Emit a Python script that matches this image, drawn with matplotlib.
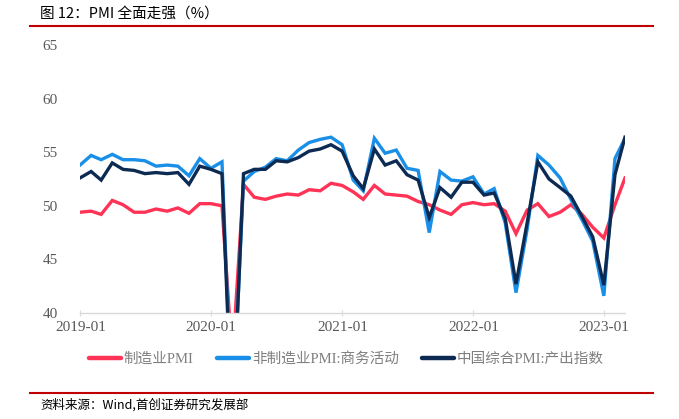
import matplotlib
matplotlib.use("Agg")
import matplotlib.pyplot as plt
import matplotlib.dates as mdates
import pandas as pd
from matplotlib.lines import Line2D

# Monthly data, 2018-12 .. 2023-02 (plotted at month end)
dates = pd.date_range("2018-12-31", periods=51, freq="ME")

manufacturing_pmi = [
    49.4,
    49.5, 49.2, 50.5, 50.1, 49.4, 49.4, 49.7, 49.5, 49.8, 49.3, 50.2, 50.2,
    50.0, 35.7, 52.0, 50.8, 50.6, 50.9, 51.1, 51.0, 51.5, 51.4, 52.1, 51.9,
    51.3, 50.6, 51.9, 51.1, 51.0, 50.9, 50.4, 50.1, 49.6, 49.2, 50.1, 50.3,
    50.1, 50.2, 49.5, 47.4, 49.6, 50.2, 49.0, 49.4, 50.1, 49.2, 48.0, 47.0,
    50.1, 52.6,
]
non_manufacturing_pmi = [
    53.8,
    54.7, 54.3, 54.8, 54.3, 54.3, 54.2, 53.7, 53.8, 53.7, 52.8, 54.4, 53.5,
    54.1, 29.6, 52.3, 53.2, 53.6, 54.4, 54.2, 55.2, 55.9, 56.2, 56.4, 55.7,
    52.4, 51.4, 56.3, 54.9, 55.2, 53.5, 53.3, 47.5, 53.2, 52.4, 52.3, 52.7,
    51.1, 51.6, 48.4, 41.9, 47.8, 54.7, 53.8, 52.6, 50.6, 48.7, 46.7, 41.6,
    54.4, 56.3,
]
composite_pmi = [
    52.6,
    53.2, 52.4, 54.0, 53.4, 53.3, 53.0, 53.1, 53.0, 53.1, 52.0, 53.7, 53.4,
    53.0, 28.9, 53.0, 53.4, 53.4, 54.2, 54.1, 54.5, 55.1, 55.3, 55.7, 55.1,
    52.8, 51.6, 55.3, 53.8, 54.2, 52.9, 52.4, 48.9, 51.7, 50.8, 52.2, 52.2,
    51.0, 51.2, 48.8, 42.7, 48.4, 54.1, 52.5, 51.7, 50.9, 49.0, 47.1, 42.6,
    52.9, 56.4,
]

series_labels = ["制造业PMI", "非制造业PMI:商务活动", "中国综合PMI:产出指数"]
series_colors = ["#FF3355", "#1A8FE8", "#0D2B52"]
y_ticks = [40, 45, 50, 55, 60, 65]

plt.rcParams["font.family"] = ["Liberation Serif", "Noto Sans CJK SC", "DejaVu Sans"]

fig = plt.figure(figsize=(6.79, 4.19), dpi=100)
ax = fig.add_axes([80 / 679, 1 - 313 / 419, (625 - 80) / 679, (313 - 45) / 419])

for vals, lab, col in zip([manufacturing_pmi, non_manufacturing_pmi, composite_pmi],
                          series_labels, series_colors):
    ax.plot(dates, vals, color=col, lw=2.4, label=lab, solid_joinstyle="miter")

ax.set_ylim(40, 65)
ax.set_yticks(y_ticks)
ax.set_xlim(pd.Timestamp("2018-12-31"), pd.Timestamp("2023-02-28"))
ax.xaxis.set_major_locator(mdates.YearLocator(month=1, day=1))
ax.xaxis.set_major_formatter(mdates.DateFormatter("%Y-%m"))

for s in ["top", "right", "left"]:
    ax.spines[s].set_visible(False)
ax.spines["bottom"].set_color("#D9D9D9")
ax.spines["bottom"].set_linewidth(1.0)
ax.tick_params(axis="y", length=0, pad=16, labelsize=11, labelcolor="#595959")
ax.tick_params(axis="x", direction="inout", length=5, color="#D9D9D9",
               pad=3, labelsize=11, labelcolor="#595959")
for lbl in ax.get_xticklabels() + ax.get_yticklabels():
    lbl.set_fontfamily("Liberation Serif")

handles = [Line2D([0], [0], color=c, lw=3.2, solid_capstyle="round") for c in series_colors]
leg = fig.legend(handles, series_labels, loc="center", bbox_to_anchor=(0.510, 1 - 359 / 419),
                 ncol=3, frameon=False, handlelength=2.2, handletextpad=0.2,
                 columnspacing=1.6, prop={"family": ["Liberation Serif", "Noto Sans CJK SC"], "size": 10.5})
for t in leg.get_texts():
    t.set_color("#7F7F7F")

# Title and source
fig.text(40 / 679, 1 - 14 / 419, "图 12：PMI 全面走强（%）", fontsize=10.5,
         family=["Noto Sans CJK SC", "DejaVu Sans"],
         va="center", ha="left", color="black")
fig.add_artist(Line2D([30 / 679, 653 / 679], [1 - 26 / 419, 1 - 26 / 419],
                      color="#C00000", lw=1.5, transform=fig.transFigure))
fig.add_artist(Line2D([30 / 679, 653 / 679], [1 - 393 / 419, 1 - 393 / 419],
                      color="#C00000", lw=1.5, transform=fig.transFigure))
fig.text(40 / 679, 1 - 405 / 419, "资料来源：Wind,首创证券研究发展部", fontsize=9,
         family=["Noto Sans CJK SC", "DejaVu Sans"], style="italic",
         va="center", ha="left", color="black")

fig.savefig("out.png", dpi=100)
